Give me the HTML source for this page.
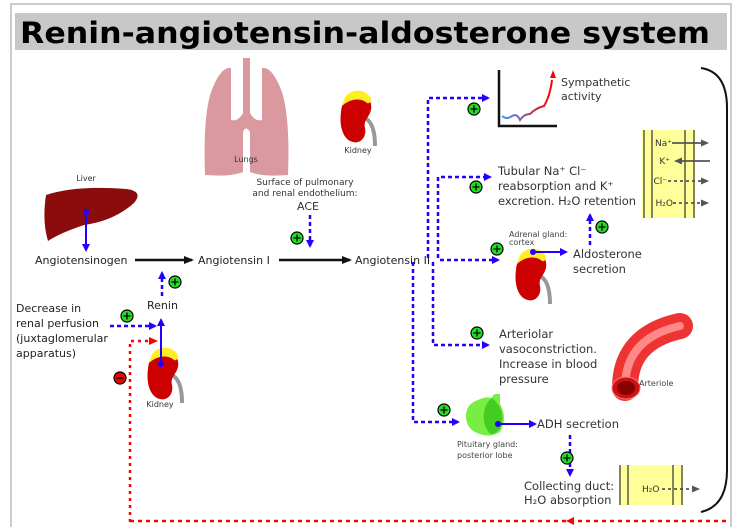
<!DOCTYPE html><html><head><style>body{margin:0;background:#fff}svg{display:block;font-family:"DejaVu Sans","Liberation Sans",sans-serif}</style></head><body>
<svg width="740" height="527" viewBox="0 0 740 527" xmlns="http://www.w3.org/2000/svg">
<defs>
<marker id="ab" markerWidth="8" markerHeight="8" refX="6" refY="4" orient="auto" markerUnits="userSpaceOnUse"><path d="M0,0L8,4L0,8z" fill="#2200ff"/></marker>
<marker id="ak" markerWidth="10" markerHeight="8" refX="8" refY="4" orient="auto" markerUnits="userSpaceOnUse"><path d="M0,0L10,4L0,8z" fill="#111"/></marker>
<marker id="ar" markerWidth="9" markerHeight="8" refX="6" refY="4" orient="auto" markerUnits="userSpaceOnUse"><path d="M0,0L9,4L0,8z" fill="#f00"/></marker>
<marker id="ag" markerWidth="8" markerHeight="7" refX="6" refY="3.5" orient="auto" markerUnits="userSpaceOnUse"><path d="M0,0L8,3.5L0,7z" fill="#555"/></marker>
<g id="plus"><circle r="6" fill="#22dd22" stroke="#000" stroke-width="1.2"/><path d="M-3.5,0H3.5M0,-3.5V3.5" stroke="#000" stroke-width="1.3"/></g>
<g id="kid"><path d="M20,28 C28,32 30,44 30,56" stroke="#999" stroke-width="4" fill="none"/><path d="M8,6 C18,2 28,8 26,20 C24,28 18,30 20,38 C22,48 14,54 8,52 C-2,50 -6,36 -4,22 C-3,12 0,8 8,6z" fill="#cc0000"/><path d="M-1,10 C2,0 18,-4 26,8 C26,12 24,14 22,13 C16,8 6,8 -3,16z" fill="#ffee22"/></g>
</defs>
<rect x="11" y="4" width="720" height="530" fill="none" stroke="#bbb" stroke-width="1.5"/>
<rect x="15" y="13" width="712" height="37" fill="#c8c8c8"/>
<text x="20" y="43" font-size="29" font-weight="bold" fill="#000" textLength="690" lengthAdjust="spacingAndGlyphs">Renin-angiotensin-aldosterone system</text>

<!-- lungs -->
<path d="M243,58h7v55q5,9 12,7v-52q11,-2 21,27q7,27 5,80q-26,2 -38,-3v-40q-4,-7 -7,0v40q-12,5 -38,3q-2,-53 5,-80q10,-29 21,-27v52q7,2 12,-7z" fill="#d9999f"/>
<text x="246" y="162" font-size="8" fill="#333" text-anchor="middle">Lungs</text>
<use href="#kid" x="345" y="90"/>
<text x="358" y="153" font-size="8" fill="#333" text-anchor="middle">Kidney</text>
<text x="305" y="185" font-size="9" fill="#333" text-anchor="middle">Surface of pulmonary</text>
<text x="305" y="196" font-size="9" fill="#333" text-anchor="middle">and renal endothelium:</text>
<text x="308" y="210" font-size="11" fill="#333" text-anchor="middle">ACE</text>
<path d="M310,215V246" stroke="#2200ff" stroke-width="2.5" stroke-dasharray="4,3" marker-end="url(#ab)"/>
<use href="#plus" x="297" y="238"/>

<!-- liver -->
<text x="86" y="181" font-size="8" fill="#333" text-anchor="middle">Liver</text>
<path d="M46,195q30,-10 80,-6q18,2 8,14q-20,18 -50,22q-24,8 -36,16q-6,-20 -2,-46z" fill="#8b0c0c"/>
<path d="M86,212V250" stroke="#2200ff" stroke-width="2" marker-end="url(#ab)"/><circle cx="86" cy="212" r="3" fill="#2200ff"/>
<text x="35" y="264" font-size="11" fill="#222">Angiotensinogen</text>
<path d="M135,260H192" stroke="#111" stroke-width="2.5" marker-end="url(#ak)"/>
<text x="198" y="264" font-size="11" fill="#222">Angiotensin I</text>
<path d="M279,260H350" stroke="#111" stroke-width="2.5" marker-end="url(#ak)"/>
<text x="355" y="264" font-size="11" fill="#222">Angiotensin II</text>

<text x="147" y="309" font-size="11" fill="#222">Renin</text>
<path d="M162,296V273" stroke="#2200ff" stroke-width="2.5" stroke-dasharray="4,3" marker-end="url(#ab)"/>
<use href="#plus" x="175" y="282"/>
<text font-size="11" fill="#222"><tspan x="16" y="312">Decrease in</tspan><tspan x="16" y="327">renal perfusion</tspan><tspan x="16" y="342">(juxtaglomerular</tspan><tspan x="16" y="357">apparatus)</tspan></text>
<path d="M110,326H155" stroke="#2200ff" stroke-width="2.5" stroke-dasharray="4,3" marker-end="url(#ab)"/>
<use href="#plus" x="127" y="316"/>
<path d="M130,522V341H155" stroke="#f00" stroke-width="2.5" stroke-dasharray="3,4" fill="none" marker-end="url(#ar)"/>
<circle cx="120" cy="378" r="6" fill="#e00" stroke="#000" stroke-width="1.2"/><path d="M116.5,378H123.5" stroke="#000" stroke-width="1.3"/>
<use href="#kid" x="152" y="347"/>
<path d="M161,364V320" stroke="#2200ff" stroke-width="2" marker-end="url(#ab)"/><circle cx="161" cy="364" r="3" fill="#2200ff"/>
<text x="160" y="407" font-size="8" fill="#333" text-anchor="middle">Kidney</text>
<path d="M130,521H730" stroke="#f00" stroke-width="2.5" stroke-dasharray="4,4"/>
<path d="M574,517L566,521L574,525z" fill="#f00"/>

<!-- angiotensin II branches -->
<g stroke="#2200ff" stroke-width="2.5" stroke-dasharray="4,3" fill="none" marker-end="url(#ab)">
<path d="M440,260H498"/>
<path d="M428,258V98H488"/>
<path d="M438,258V177H490"/>
<path d="M433,262V345H488"/>
<path d="M413,262V422H458"/>
<path d="M590,245V215"/>
<path d="M570,435V475"/>
</g>
<use href="#plus" x="474" y="109"/><use href="#plus" x="476" y="187"/><use href="#plus" x="497" y="249"/><use href="#plus" x="602" y="227"/><use href="#plus" x="477" y="333"/><use href="#plus" x="444" y="410"/><use href="#plus" x="567" y="458"/>

<!-- graph -->
<path d="M499,70V126H557" stroke="#111" stroke-width="2.5" fill="none"/>
<defs><linearGradient id="gr"><stop offset="0" stop-color="#39f"/><stop offset="1" stop-color="#f00"/></linearGradient></defs>
<path d="M502,116q5,4 10,0q5,-3 8,4q4,-6 10,-6q6,-6 14,-8q6,-10 8,-26" stroke="url(#gr)" stroke-width="2" fill="none"/>
<path d="M550,78L553,70L556,78z" fill="#f00"/>
<text font-size="11" fill="#333"><tspan x="561" y="86">Sympathetic</tspan><tspan x="561" y="100">activity</tspan></text>
<text font-size="11.5" fill="#333"><tspan x="498" y="175">Tubular Na⁺ Cl⁻</tspan><tspan x="498" y="190">reabsorption and K⁺</tspan><tspan x="498" y="205" textLength="138">excretion. H₂O retention</tspan></text>

<!-- membrane -->
<rect x="642" y="130" width="53" height="88" fill="#ffff99"/>
<path d="M644,130V218M652,130V218M685,130V218M694,130V218" stroke="#333" stroke-width="1.2"/>
<text font-size="9" fill="#333" text-anchor="end"><tspan x="672" y="146">Na⁺</tspan><tspan x="670" y="164">K⁺</tspan><tspan x="667" y="184">Cl⁻</tspan><tspan x="673" y="206">H₂O</tspan></text>
<path d="M672,143H707" stroke="#555" stroke-width="1.8" marker-end="url(#ag)"/>
<path d="M710,161H676" stroke="#555" stroke-width="1.8" marker-end="url(#ag)"/>
<path d="M668,181H707" stroke="#555" stroke-width="1.8" stroke-dasharray="3,3" marker-end="url(#ag)"/>
<path d="M673,203H707" stroke="#555" stroke-width="1.8" stroke-dasharray="3,3" marker-end="url(#ag)"/>
<path d="M701,68q26,4 26,40V470q0,36 -26,42" stroke="#111" stroke-width="2" fill="none"/>

<!-- adrenal -->
<text font-size="8" fill="#444"><tspan x="509" y="237">Adrenal gland:</tspan><tspan x="509" y="245">cortex</tspan></text>
<use href="#kid" x="520" y="248"/>
<path d="M533,252H566" stroke="#2200ff" stroke-width="2" marker-end="url(#ab)"/><circle cx="533" cy="252" r="3" fill="#2200ff"/>
<text font-size="11.5" fill="#333"><tspan x="573" y="258">Aldosterone</tspan><tspan x="573" y="273">secretion</tspan></text>

<text font-size="11.5" fill="#333"><tspan x="499" y="338">Arteriolar</tspan><tspan x="499" y="353">vasoconstriction.</tspan><tspan x="499" y="368">Increase in blood</tspan><tspan x="499" y="383">pressure</tspan></text>
<!-- arteriole -->
<path d="M625,388q0,-50 55,-62" stroke="#ee3333" stroke-width="26" fill="none" stroke-linecap="round"/>
<path d="M625,388q0,-50 55,-62" stroke="#ff8888" stroke-width="8" fill="none" stroke-linecap="round"/>
<ellipse cx="626" cy="388" rx="14" ry="11" fill="#cc1111" stroke="#ff7777"/>
<ellipse cx="626" cy="388" rx="9" ry="7" fill="#880000"/>
<text x="639" y="386" font-size="8" fill="#444">Arteriole</text>

<!-- pituitary -->
<path d="M478,400q8,-4 14,-2q0,-5 8,-4v10q8,14 0,28q-10,6 -20,2q-14,-4 -14,-18q0,-12 12,-16z" fill="#77ee44"/>
<path d="M492,398q12,10 10,24q-2,12 -12,12q-8,-10 -6,-22q2,-10 8,-14z" fill="#44cc22"/>
<path d="M498,424H535" stroke="#2200ff" stroke-width="2" marker-end="url(#ab)"/><circle cx="498" cy="424" r="3" fill="#2200ff"/>
<text x="537" y="428" font-size="11.5" fill="#333">ADH secretion</text>
<text font-size="8" fill="#444"><tspan x="457" y="447">Pituitary gland:</tspan><tspan x="457" y="458">posterior lobe</tspan></text>
<text font-size="11.5" fill="#333"><tspan x="524" y="490">Collecting duct:</tspan><tspan x="524" y="504">H₂O absorption</tspan></text>
<rect x="619" y="465" width="64" height="40" fill="#ffff99"/>
<path d="M620,465V505M628,465V505M673,465V505M682,465V505" stroke="#333" stroke-width="1.2"/>
<text x="642" y="492" font-size="9" fill="#333">H₂O</text>
<path d="M662,489H698" stroke="#555" stroke-width="1.8" stroke-dasharray="3,3" marker-end="url(#ag)"/>
</svg>
</body></html>
